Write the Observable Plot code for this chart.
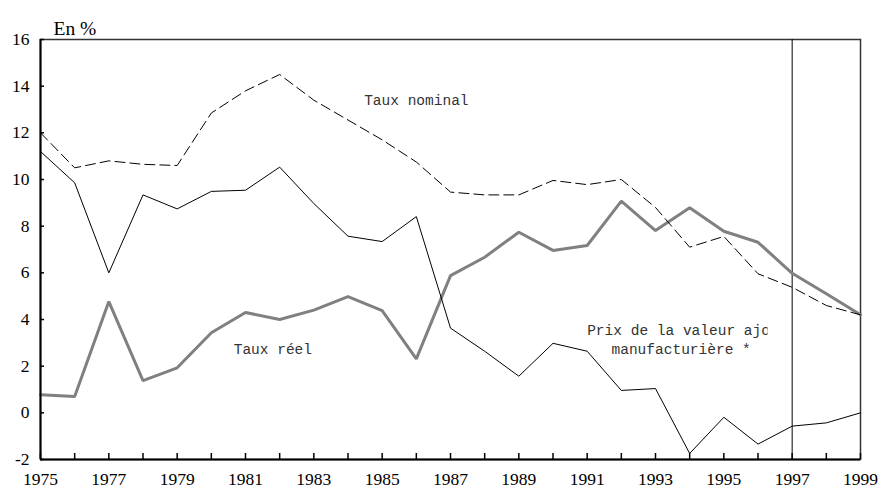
<!DOCTYPE html>
<html>
<head>
<meta charset="utf-8">
<script src="https://cdn.jsdelivr.net/npm/d3@7"></script>
<script src="https://cdn.jsdelivr.net/npm/@observablehq/plot@0.6"></script>
<style>
  html, body { margin: 0; padding: 0; background: #fff; }
  #chart { width: 879px; height: 488px; }
</style>
</head>
<body>
<div id="chart"></div>
<script>
// ---- Data ----
const years = [1975,1976,1977,1978,1979,1980,1981,1982,1983,1984,1985,1986,1987,1988,1989,1990,1991,1992,1993,1994,1995,1996,1997,1998,1999];
const tauxNominal = [12.0,10.5,10.8,10.65,10.6,12.85,13.8,14.5,13.4,12.55,11.7,10.75,9.46,9.34,9.34,9.96,9.78,10.0,8.8,7.1,7.56,5.96,5.38,4.6,4.2];
const prixValeurAjoutee = [11.2,9.86,6.0,9.34,8.74,9.49,9.54,10.53,8.97,7.57,7.34,8.41,3.63,2.64,1.57,2.98,2.64,0.96,1.04,-1.74,-0.19,-1.34,-0.57,-0.43,0.0];
const tauxReel = [0.78,0.7,4.77,1.38,1.93,3.43,4.3,4.0,4.4,4.98,4.38,2.31,5.88,6.67,7.74,6.96,7.17,9.07,7.81,8.79,7.78,7.31,5.98,5.1,4.2];
const yTicks = [-2,0,2,4,6,8,10,12,14,16];
const xLabelYears = [1975,1977,1979,1981,1983,1985,1987,1989,1991,1993,1995,1997,1999];
const forecastStart = [1997];
const unitLabel = "En %";
const annotations = [
  {x: 1986, y: 13.4, text: "Taux nominal", anchor: "middle"},
  {x: 1981.8, y: 2.74, text: "Taux réel", anchor: "middle"},
  {x: 1991, y: 3.53, text: "Prix de la valeur ajoutée", anchor: "start"},
  {x: 1993.75, y: 2.7, text: "manufacturière *", anchor: "middle"}
];

const rows = years.map((yr, i) => ({year: yr, nominal: tauxNominal[i], prix: prixValeurAjoutee[i], reel: tauxReel[i]}));

const W = 879, H = 488, ML = 40, MR = 19, MT = 39, MB = 29;
const xDomain = [years[0], years[years.length - 1]];
const yDomain = [yTicks[0], yTicks[yTicks.length - 1]];

const serif = "'Liberation Serif', 'Times New Roman', serif";
const mono = "'Liberation Mono', 'Courier New', monospace";

const plot = Plot.plot({
  width: W, height: H,
  marginLeft: ML, marginRight: MR, marginTop: MT, marginBottom: MB,
  style: {fontFamily: serif, fontSize: "17.5px", color: "#000", background: "#fff", overflow: "visible"},
  x: {domain: xDomain, type: "linear"},
  y: {domain: yDomain},
  marks: [
    Plot.frame({stroke: "#333", strokeWidth: 1.5}),
    Plot.ruleX(forecastStart, {stroke: "#000", strokeWidth: 1}),
    Plot.lineY(rows, {x: "year", y: "reel", stroke: "#808080", strokeWidth: 3, strokeLinejoin: "miter"}),
    Plot.lineY(rows, {x: "year", y: "nominal", stroke: "#000", strokeWidth: 1, strokeDasharray: "10,5"}),
    Plot.lineY(rows, {x: "year", y: "prix", stroke: "#000", strokeWidth: 1}),
    Plot.ruleX([xDomain[0]], {stroke: "#000", strokeWidth: 2}),
    Plot.ruleY([yDomain[0]], {stroke: "#000", strokeWidth: 2}),
    // inward tick marks
    Plot.ruleX(years, {x: d => d, y1: () => yDomain[0], y2: () => yDomain[0], insetTop: -6, stroke: "#000", strokeWidth: 1.5}),
    Plot.ruleY(yTicks, {y: d => d, x1: () => xDomain[0], x2: () => xDomain[0], insetRight: -4, stroke: "#000", strokeWidth: 1.5}),
    Plot.axisY({ticks: yTicks, tickSize: 0, tickPadding: 11, tickFormat: d => String(d)}),
    Plot.axisX({ticks: xLabelYears, tickSize: 0, tickPadding: 13, tickFormat: d => String(d)}),
    Plot.text(annotations, {x: "x", y: "y", text: "text", fontFamily: mono, fontSize: 14.5, fill: "#333"}),
    Plot.text([unitLabel], {frameAnchor: "top-left", text: d => d, dx: 13, dy: -18, textAnchor: "start", fontFamily: serif, fontSize: 19.5, fill: "#000"})
  ]
});

const svg = d3.select(plot);

// axis label fonts
svg.selectAll("g[aria-label$='tick label']")
  .attr("font-size", 17.5).attr("font-family", serif).attr("fill", "#000")
  .style("font-size", "17.5px").style("font-family", serif);

// annotation anchors
svg.selectAll("text").each(function() {
  const a = annotations.find(d => d.text === this.textContent);
  if (a) this.setAttribute("text-anchor", a.anchor);
});

// clip the truncated first line of the price label (as in the original)
const xs = plot.scale("x");
const px = v => (xs && xs.apply) ? xs.apply(v) : ML + (v - xDomain[0]) / (xDomain[1] - xDomain[0]) * (W - ML - MR);
const clipRight = px(1996.28);
svg.append("defs").append("clipPath").attr("id", "clipPrix")
  .attr("clipPathUnits", "userSpaceOnUse")
  .append("rect").attr("x", -2000).attr("y", -2000).attr("width", 2000 + clipRight).attr("height", 4000);
svg.selectAll("text").filter(function() { return this.textContent.startsWith("Prix"); })
  .each(function() {
    const parent = this.parentNode;
    const g = document.createElementNS("http://www.w3.org/2000/svg", "g");
    g.setAttribute("clip-path", "url(#clipPrix)");
    parent.insertBefore(g, this);
    g.appendChild(this);
  });

document.getElementById("chart").appendChild(plot);
</script>
</body>
</html>
